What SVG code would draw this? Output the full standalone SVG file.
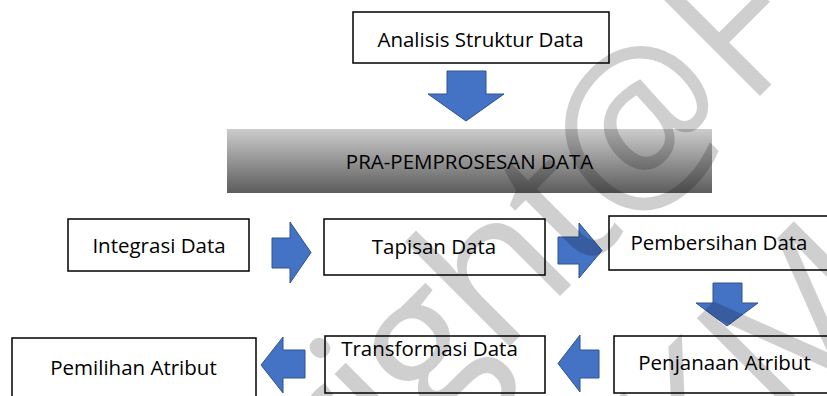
<svg xmlns="http://www.w3.org/2000/svg" width="827" height="396" viewBox="0 0 827 396">
<style>
.box{fill:#fff;stroke:#000;stroke-width:1.5}
.lbl{font-family:"Open Sans","Noto Sans",sans-serif;font-size:20.5px;fill:#000;text-anchor:middle}
.arr{fill:#4472C4;stroke:#2F528F;stroke-width:1;stroke-linejoin:miter}
.wm{font-family:"Open Sans","Noto Sans",sans-serif;font-size:195px;fill:#000;fill-opacity:0.19}
</style>
<defs>
<linearGradient id="g" x1="0" y1="0" x2="0" y2="1">
<stop offset="0" stop-color="#cccccc"/>
<stop offset="1" stop-color="#5c5c5c"/>
</linearGradient>
</defs>
<rect width="827" height="396" fill="#fff"/>
<g id="n1"><rect class="box" x="353" y="12" width="256" height="51"/><text class="lbl" x="480.5" y="47">Analisis Struktur Data</text></g>
<g id="n2"><rect x="227" y="129" width="485" height="64" fill="url(#g)"/><text class="lbl" x="469.5" y="169">PRA-PEMPROSESAN DATA</text></g>
<g id="n3"><rect class="box" x="68" y="219" width="181" height="52"/><text class="lbl" x="159" y="253">Integrasi Data</text></g>
<g id="n4"><rect class="box" x="324" y="219" width="221" height="56"/><text class="lbl" x="434" y="254">Tapisan Data</text></g>
<g id="n5"><rect class="box" x="609" y="216" width="240" height="54"/><text class="lbl" x="719" y="250">Pembersihan Data</text></g>
<g id="n6"><rect class="box" x="614" y="336" width="240" height="57"/><text class="lbl" x="724.5" y="370">Penjanaan Atribut</text></g>
<g id="n7"><rect class="box" x="325" y="336" width="220" height="57"/><text class="lbl" x="429.5" y="356">Transformasi Data</text></g>
<g id="n8"><rect class="box" x="12" y="338" width="244" height="70"/><text class="lbl" x="133.5" y="375">Pemilihan Atribut</text></g>
<g id="connectors">
<polygon class="arr" points="447,71 486,71 486,94 504,94 466,121 428,94 447,94"/>
<polygon class="arr" points="272,238 290,238 290,222 311,252.5 290,283 290,268 272,268"/>
<polygon class="arr" points="558,237 579,237 579,223 602,250.5 579,278 579,264 558,264"/>
<polygon class="arr" points="713,283 742,283 742,303 758,303 727,326 696,303 713,303"/>
<polygon class="arr" points="305,350 283,350 283,337 261,365 283,393 283,378 305,378"/>
<polygon class="arr" points="599,350 580,350 580,335 558,363.5 580,392 580,378 599,378"/>
</g>
<g id="watermark">
<g transform="translate(623,233) rotate(-45)"><text class="wm" x="0" y="0" text-anchor="end" letter-spacing="-6">Copyright</text><text class="wm" x="0" y="0">@F</text></g>
<g transform="translate(780,432) rotate(-45)"><text class="wm" x="-117" y="0">KM</text></g>
</g>
</svg>
